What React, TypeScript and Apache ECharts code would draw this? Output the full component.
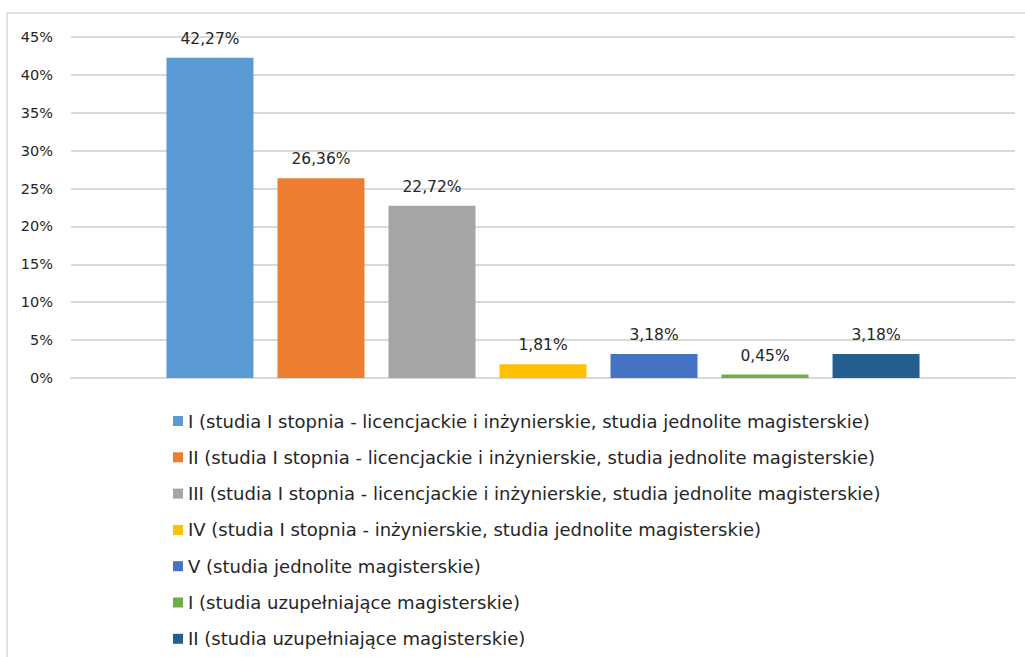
import React, { useEffect, useRef } from "react";
import * as echarts from "echarts";

const categories = [""];
const seriesNames = [
  "I (studia I stopnia - licencjackie i inżynierskie, studia jednolite magisterskie)",
  "II (studia I stopnia - licencjackie i inżynierskie, studia jednolite magisterskie)",
  "III (studia I stopnia - licencjackie i inżynierskie, studia jednolite magisterskie)",
  "IV (studia I stopnia - inżynierskie, studia jednolite magisterskie)",
  "V (studia jednolite magisterskie)",
  "I (studia uzupełniające magisterskie)",
  "II (studia uzupełniające magisterskie)",
];
const seriesValues = [42.27, 26.36, 22.72, 1.81, 3.18, 0.45, 3.18];
const seriesColors = ["#5B9BD5", "#ED7D31", "#A5A5A5", "#FFC000", "#4472C4", "#70AD47", "#255E91"];

const FONT = "DejaVu Sans";

export default function App() {
  const ref = useRef<HTMLDivElement>(null);
  useEffect(() => {
    const chart = echarts.init(ref.current!, null, { renderer: "svg" });
    chart.setOption({
      animation: false,
      backgroundColor: "#ffffff",
      textStyle: { fontFamily: FONT },
      graphic: [
        {
          type: "rect",
          shape: { x: 7, y: 13, width: 1040, height: 700 },
          style: { fill: "none", stroke: "#d9d9d9", lineWidth: 1.5 },
          silent: true,
        },
      ],
      grid: { left: 71, right: 10, top: 37, bottom: 279, containLabel: false },
      xAxis: {
        type: "category",
        data: categories,
        axisLine: { show: true, lineStyle: { color: "#d9d9d9", width: 2 } },
        axisTick: { show: false },
        axisLabel: { show: false },
      },
      yAxis: {
        type: "value",
        min: 0,
        max: 45,
        interval: 5,
        axisLine: { show: false },
        axisTick: { show: false },
        splitLine: { lineStyle: { color: "#d9d9d9", width: 2 } },
        axisLabel: {
          formatter: (v: number) => v + "%",
          color: "#262626",
          fontSize: 14.5,
          fontFamily: FONT,
          margin: 18,
        },
      },
      legend: {
        orient: "vertical",
        left: 173,
        top: 412,
        padding: 0,
        itemWidth: 10,
        itemHeight: 10,
        itemGap: 18.3,
        icon: "rect",
        textStyle: { color: "#262626", fontSize: 18, lineHeight: 17, fontFamily: FONT },
        data: seriesNames,
      },
      series: seriesNames.map((name, i) => ({
        name,
        type: "bar",
        data: [seriesValues[i]],
        barWidth: 87,
        barGap: "27.6%",
        itemStyle: { color: seriesColors[i] },
        label: {
          show: true,
          position: "top",
          distance: 11,
          color: "#262626",
          fontSize: 15.5,
          fontFamily: FONT,
          formatter: (p: any) => p.value.toFixed(2).replace(".", ",") + "%",
        },
      })),
    });
    return () => chart.dispose();
  }, []);
  return (
    <div
      ref={ref}
      style={{ position: "fixed", left: 0, top: 0, width: 1025, height: 657 }}
    />
  );
}
